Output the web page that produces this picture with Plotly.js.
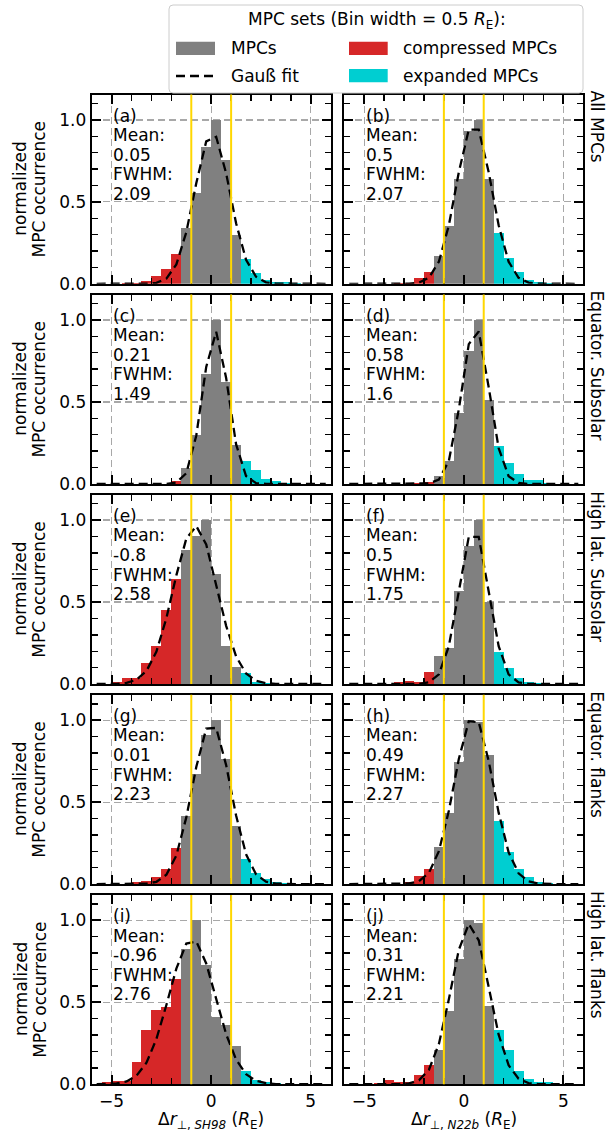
<!DOCTYPE html>
<html><head><meta charset="utf-8">
<script src="https://cdn.plot.ly/plotly-3.0.1.min.js"></script>
<style>html,body{margin:0;padding:0;background:#fff}#chart{width:606px;height:1132px}</style>
</head><body><div id="chart"></div>
<script>
// ---------------- DATA ----------------
const binWidth = 0.5;
const binCenters = [-5.75,-5.25,-4.75,-4.25,-3.75,-3.25,-2.75,-2.25,-1.75,-1.25,-0.75,-0.25,0.25,0.75,1.25,1.75,2.25,2.75,3.25,3.75,4.25,4.75,5.25,5.75];
const compressedEdge = -1.5;
const expandedEdge = 1.5;
const thresholds = [-1, 1];

const panelLetters = ['(a)','(b)','(c)','(d)','(e)','(f)','(g)','(h)','(i)','(j)'];
const panelMeans = ['0.05','0.5','0.21','0.58','-0.8','0.5','0.01','0.49','-0.96','0.31'];
const panelFWHM = ['2.09','2.07','1.49','1.6','2.58','1.75','2.23','2.27','2.76','2.21'];
const rowLabels = ['All MPCs','Equator. Subsolar','High lat. Subsolar','Equator. flanks','High lat. flanks'];
const xTitles = ['Δ<i>r</i><sub>⊥, <i>SH98</i></sub> (<i>R</i><sub>E</sub>)', 'Δ<i>r</i><sub>⊥, <i>N22b</i></sub> (<i>R</i><sub>E</sub>)'];
const yTitleLines = ['normalized', 'MPC occurrence'];
const legendTitle = 'MPC sets (Bin width = 0.5 <i>R</i><sub>E</sub>):';
const legendNames = ['MPCs', 'Gauß fit', 'compressed MPCs', 'expanded MPCs'];

const histA = [0,0,0,0.002,0.004,0.016,0.05,0.088,0.184,0.34,0.557,0.837,1.0,0.755,0.30,0.149,0.067,0.024,0.012,0.008,0.004,0,0,0];
const fitA  = [0,0,0,0,0,0.001,0.006,0.032,0.118,0.315,0.613,0.869,0.897,0.674,0.369,0.147,0.043,0.009,0.001,0,0,0,0,0];
const histB = [0,0,0,0,0,0.004,0.006,0.037,0.071,0.17,0.35,0.64,0.93,1.0,0.64,0.31,0.157,0.071,0.024,0.01,0.003,0,0,0];
const fitB  = [0,0,0,0,0,0,0.001,0.007,0.037,0.135,0.357,0.681,0.941,0.941,0.681,0.357,0.135,0.037,0.007,0.001,0,0,0,0];
const histC = [0,0,0,0,0,0,0,0,0.016,0.097,0.30,0.67,1.0,0.62,0.24,0.142,0.083,0.032,0.016,0.008,0,0,0,0];
const fitC  = [0,0,0,0,0,0,0,0,0.008,0.065,0.294,0.714,0.928,0.646,0.241,0.048,0.005,0,0,0,0,0,0,0];
const histD = [0,0,0,0,0,0,0,0.006,0.01,0.047,0.14,0.43,0.81,1.0,0.51,0.233,0.128,0.061,0.026,0.024,0.004,0,0,0];
const fitD  = [0,0,0,0,0,0,0,0,0.003,0.026,0.141,0.455,0.853,0.930,0.590,0.218,0.047,0.006,0,0,0,0,0,0];
const histE = [0,0,0.012,0.035,0.035,0.13,0.229,0.453,0.641,0.82,0.90,1.0,0.67,0.229,0.106,0.069,0.014,0.004,0,0,0,0,0,0];
const fitE  = [0,0,0.001,0.007,0.026,0.079,0.198,0.402,0.663,0.887,0.964,0.851,0.610,0.355,0.168,0.064,0.020,0.005,0.001,0,0,0,0,0];
const histF = [0,0,0,0,0,0.014,0.018,0.01,0.075,0.171,0.218,0.565,0.84,1.0,0.50,0.198,0.096,0.039,0.014,0.004,0,0,0,0];
const fitF  = [0,0,0,0,0,0,0,0.001,0.010,0.059,0.231,0.571,0.898,0.898,0.571,0.231,0.059,0.010,0.001,0,0,0,0,0];
const histG = [0,0,0,0,0.012,0.016,0.045,0.092,0.218,0.418,0.671,0.91,1.0,0.763,0.357,0.153,0.065,0.031,0.012,0.006,0,0,0,0];
const fitG  = [0,0,0,0,0,0.003,0.014,0.057,0.175,0.407,0.714,0.949,0.953,0.726,0.418,0.182,0.060,0.015,0.003,0,0,0,0,0];
const histH = [0,0,0,0,0,0,0.012,0.051,0.094,0.229,0.433,0.743,1.0,0.988,0.788,0.382,0.194,0.092,0.045,0.012,0.006,0,0,0];
const fitH  = [0,0,0,0,0,0,0.004,0.018,0.069,0.201,0.448,0.763,0.994,0.988,0.751,0.436,0.194,0.066,0.017,0.003,0,0,0,0];
const histI = [0,0.012,0.018,0.022,0.133,0.331,0.45,0.47,0.641,0.824,1.0,0.729,0.41,0.36,0.233,0.08,0.024,0.012,0.008,0.004,0,0,0,0];
const fitI  = [0,0.001,0.005,0.017,0.052,0.131,0.276,0.483,0.705,0.858,0.871,0.737,0.52,0.305,0.150,0.061,0.021,0.006,0.001,0,0,0,0,0];
const histJ = [0,0,0,0.008,0.025,0.016,0.016,0.055,0.117,0.21,0.446,0.764,1.0,0.984,0.476,0.333,0.21,0.08,0.031,0.012,0.012,0,0,0];
const fitJ  = [0,0,0,0,0,0.001,0.005,0.024,0.088,0.246,0.518,0.820,0.978,0.878,0.593,0.302,0.116,0.033,0.007,0.001,0,0,0,0];

// ---------------- LAYOUT / DRAWING ----------------
const hists = [histA,histB,histC,histD,histE,histF,histG,histH,histI,histJ];
const fits  = [fitA,fitB,fitC,fitD,fitE,fitF,fitG,fitH,fitI,fitJ];

const W = 606, H = 1132;
const PX = v => v / W, PY = v => 1 - v / H;
const colX = [[91.7, 330.7], [344.3, 583.3]];
const rowTop = r => 94.5 + 200.1 * r;
const rowH = 189.3;
const FONT = 'DejaVu Sans';
const FS = 17;
const COLORS = {mpc:'#808080', comp:'#d62728', exp:'#00ced1', thr:'#ffd700'};

const data = [], shapes = [], annotations = [];
const layout = {
  width: W, height: H, margin:{l:0,r:0,t:0,b:0},
  paper_bgcolor:'#fff', plot_bgcolor:'#fff',
  barmode:'overlay', bargap:0, showlegend:false,
  font:{family:FONT, size:FS, color:'#000'},
  shapes, annotations
};

const groups = [
  {color:COLORS.comp, test:c => c < compressedEdge},
  {color:COLORS.mpc,  test:c => c > compressedEdge && c < expandedEdge},
  {color:COLORS.exp,  test:c => c > expandedEdge}
];

for (let p = 0; p < 10; p++) {
  const row = Math.floor(p / 2), col = p % 2;
  const n = p === 0 ? '' : String(p + 1);
  const xa = 'x' + n, ya = 'y' + n;
  const x0 = colX[col][0], x1 = colX[col][1];
  const yT = rowTop(row), yB = yT + rowH;

  groups.forEach(g => {
    const xs = [], ys = [];
    binCenters.forEach((c, i) => { if (g.test(c)) { xs.push(c); ys.push(hists[p][i]); } });
    data.push({type:'bar', x:xs, y:ys, width:binWidth, xaxis:xa, yaxis:ya,
      marker:{color:g.color, line:{width:0}}, hoverinfo:'skip'});
  });
  data.push({type:'scatter', mode:'lines', x:binCenters, y:fits[p], xaxis:xa, yaxis:ya,
    line:{color:'#000', width:2.3, dash:'9px,5px'}, hoverinfo:'skip'});

  thresholds.forEach(t => shapes.push({type:'line', xref:xa, yref:ya + ' domain',
    x0:t, x1:t, y0:0, y1:1, line:{color:COLORS.thr, width:2}, layer:'above'}));

  layout['xaxis' + n] = {
    domain:[PX(x0), PX(x1)], range:[-6, 6], anchor:ya,
    tick0:0, dtick:5, showticklabels: row === 4,
    ticks:'inside', ticklen:9, tickwidth:1.8, tickcolor:'#000',
    minor:{ticks:'inside', ticklen:6, tickwidth:1.4, tickcolor:'#000', tick0:0, dtick:1, showgrid:false},
    showline:true, linecolor:'#000', linewidth:2, mirror:'ticks',
    showgrid:true, gridcolor:'#a8a8a8', gridwidth:1.2, griddash:'7px,4px',
    zeroline:false, tickfont:{family:FONT, size:FS, color:'#000'}, fixedrange:true
  };
  layout['yaxis' + n] = {
    domain:[PY(yB), PY(yT)], range:[0, 1.155], anchor:xa,
    tick0:0, dtick:0.5, tickformat:'.1f', showticklabels: col === 0,
    ticks:'inside', ticklen:9, tickwidth:1.8, tickcolor:'#000',
    minor:{ticks:'inside', ticklen:6, tickwidth:1.4, tickcolor:'#000', tick0:0, dtick:0.1, showgrid:false},
    showline:true, linecolor:'#000', linewidth:2, mirror:'ticks',
    showgrid:true, gridcolor:'#a8a8a8', gridwidth:1.2, griddash:'7px,4px',
    zeroline:false, tickfont:{family:FONT, size:FS, color:'#000'}, fixedrange:true
  };

  // panel text
  const lines = [panelLetters[p], 'Mean:', panelMeans[p], 'FWHM:', panelFWHM[p]];
  lines.forEach((t, k) => annotations.push({
    text:t, xref:'paper', yref:'paper', x:PX(x0 + 19.5), y:PY(yT + 21 + 19.6 * k),
    xanchor:'left', yanchor:'middle', showarrow:false, font:{family:FONT, size:FS, color:'#000'}
  }));

  if (col === 0) {
    const yc = (yT + yB) / 2;
    [20.5, 39.3].forEach((xc, k) => annotations.push({
      text:yTitleLines[k], xref:'paper', yref:'paper', x:PX(xc), y:PY(yc),
      xanchor:'center', yanchor:'middle', textangle:-90, showarrow:false,
      font:{family:FONT, size:FS, color:'#000'}
    }));
  } else {
    annotations.push({
      text:rowLabels[row], xref:'paper', yref:'paper', x:PX(585), y:PY(yT - 6),
      xanchor:'left', yanchor:'top', textangle:90, showarrow:false,
      font:{family:FONT, size:FS, color:'#000'}
    });
  }
  if (row === 4) {
    annotations.push({
      text:xTitles[col], xref:'paper', yref:'paper', x:PX((x0 + x1) / 2), y:PY(1120),
      xanchor:'center', yanchor:'middle', showarrow:false, font:{family:FONT, size:FS, color:'#000'}
    });
  }
}

// ---------------- LEGEND (manual) ----------------
function roundRect(x0, y0, x1, y1, r) {
  const X = PX, Y = PY;
  return `M ${X(x0 + r)} ${Y(y0)} L ${X(x1 - r)} ${Y(y0)} Q ${X(x1)} ${Y(y0)} ${X(x1)} ${Y(y0 + r)} ` +
         `L ${X(x1)} ${Y(y1 - r)} Q ${X(x1)} ${Y(y1)} ${X(x1 - r)} ${Y(y1)} ` +
         `L ${X(x0 + r)} ${Y(y1)} Q ${X(x0)} ${Y(y1)} ${X(x0)} ${Y(y1 - r)} ` +
         `L ${X(x0)} ${Y(y0 + r)} Q ${X(x0)} ${Y(y0)} ${X(x0 + r)} ${Y(y0)} Z`;
}
shapes.push({type:'path', xref:'paper', yref:'paper', path:roundRect(169, 5, 583, 93, 4),
  fillcolor:'rgba(255,255,255,0.85)', line:{color:'#cccccc', width:1}, layer:'above'});
const patch = (x0, y0, x1, y1, c) => shapes.push({type:'rect', xref:'paper', yref:'paper',
  x0:PX(x0), x1:PX(x1), y0:PY(y1), y1:PY(y0), fillcolor:c, line:{width:0}, layer:'above'});
patch(176, 41.7, 215, 55, COLORS.mpc);
patch(349, 41.7, 387.7, 55, COLORS.comp);
patch(349, 69, 387.7, 82.3, COLORS.exp);
shapes.push({type:'line', xref:'paper', yref:'paper', x0:PX(176), x1:PX(215), y0:PY(76), y1:PY(76),
  line:{color:'#000', width:2.3, dash:'9px,5px'}, layer:'above'});
annotations.push({text:legendTitle, xref:'paper', yref:'paper', x:PX(376.7), y:PY(20),
  xanchor:'center', yanchor:'middle', showarrow:false, font:{family:FONT, size:FS, color:'#000'}});
[[230, 48.3], [230, 76], [402.7, 48.3], [402.7, 76]].forEach((pos, k) => annotations.push({
  text:legendNames[k], xref:'paper', yref:'paper', x:PX(pos[0] - 1.5), y:PY(pos[1]),
  xanchor:'left', yanchor:'middle', showarrow:false, font:{family:FONT, size:FS, color:'#000'}
}));

Plotly.newPlot('chart', data, layout, {staticPlot:true, displayModeBar:false});
</script>
</body></html>
